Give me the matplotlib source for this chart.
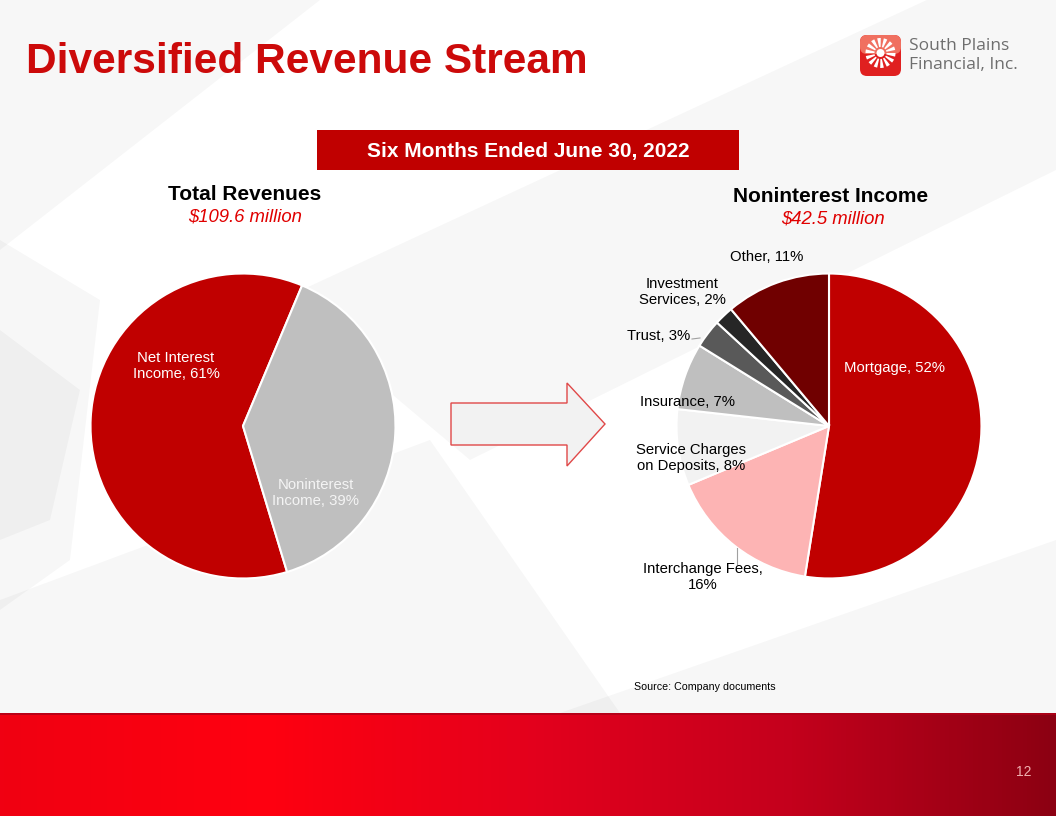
import numpy as np
import matplotlib.pyplot as plt
from matplotlib.patches import Rectangle, FancyBboxPatch, Polygon, Wedge, Circle
from matplotlib.colors import LinearSegmentedColormap

plt.rcParams['font.family'] = ['Liberation Sans', 'DejaVu Sans']

# ---- data ----
total_names = ['Net Interest\nIncome', 'Noninterest\nIncome']
total_values = [61, 39]
total_colors = ['#C00000', '#BFBFBF']

nonint_names = ['Mortgage', 'Interchange Fees', 'Service Charges\non Deposits',
                'Insurance', 'Trust', 'Investment\nServices', 'Other']
nonint_values = [52, 16, 8, 7, 3, 2, 11]
nonint_seps = [' ', '\n', ' ', ' ', ' ', ' ', ' ']
nonint_colors = ['#C00000', '#FDB4B4', '#F2F2F2', '#BFBFBF', '#595959', '#262626', '#700000']

W, H = 1056, 816
RED = '#C00000'

fig = plt.figure(figsize=(W / 100, H / 100), dpi=100)


def px_axes(z):
    a = fig.add_axes([0, 0, 1, 1])
    a.set_xlim(0, W)
    a.set_ylim(H, 0)
    a.axis('off')
    a.patch.set_alpha(0)
    a.set_zorder(z)
    return a


bg = px_axes(0)
top = px_axes(10)

# soft grey background facets (diagonal, no hard horizontal edges)
facets = [
    [(0, 240), (100, 300), (70, 560), (0, 610)],
    [(0, 330), (80, 390), (50, 520), (0, 540)],
    [(0, 600), (430, 440), (620, 713), (0, 713)],
    [(280, 300), (1056, -60), (1056, 170), (470, 460)],
    [(560, 713), (1056, 540), (1056, 713)],
    [(0, 0), (320, 0), (0, 250)],
]
for pts in facets:
    bg.add_patch(Polygon(pts, closed=True, facecolor='black', alpha=0.03,
                         edgecolor='none', zorder=0))

# bottom red band (horizontal gradient)
grad = np.linspace(0, 1, 256).reshape(1, -1)
band_cmap = LinearSegmentedColormap.from_list(
    'band', ['#F00012', '#FF0010', '#E4001C', '#C4001C', '#8C0012'])
bg.imshow(grad, cmap=band_cmap, aspect='auto', extent=(0, W, H, 713), zorder=1)
bg.plot([0, W], [713.5, 713.5], color='#B00018', lw=1.2, zorder=2)
bg.set_xlim(0, W)
bg.set_ylim(H, 0)
bg.text(1024, 772, '12', color='#F0B0B0', fontsize=10, ha='center', va='center', zorder=3)

# title
bg.text(26, 62, 'Diversified Revenue Stream', color='#CC0A0A', fontsize=30.5,
        fontweight='bold', ha='left', va='center')

# logo
bg.add_patch(FancyBboxPatch((860, 35), 41, 41, boxstyle='round,pad=0,rounding_size=7',
                            facecolor='#E02020', edgecolor='none', zorder=3))
bg.add_patch(FancyBboxPatch((860, 35), 41, 19, boxstyle='round,pad=0,rounding_size=7',
                            facecolor='#F07060', edgecolor='none', zorder=3))
for k in range(14):
    a = k * 360 / 14
    bg.add_patch(Wedge((880.5, 53), 15, a, a + 14, width=9, facecolor='white',
                       edgecolor='none', zorder=4))
bg.add_patch(Circle((880.5, 53), 4, facecolor='white', edgecolor='none', zorder=4))
bg.text(909, 46, 'South Plains', color='#6E6E6E', fontsize=12.5, family='Open Sans',
        ha='left', va='center')
bg.text(909, 65, 'Financial, Inc.', color='#6E6E6E', fontsize=12.5, family='Open Sans',
        ha='left', va='center')

# period banner
bg.add_patch(Rectangle((317, 130), 422, 40, facecolor=RED, edgecolor='none', zorder=3))
bg.text(528, 151, 'Six Months Ended June 30, 2022', color='white', fontsize=15,
        fontweight='bold', ha='center', va='center', zorder=4)

# pie headings
bg.text(245, 195, 'Total Revenues', fontsize=15, fontweight='bold', ha='center', va='center')
bg.text(245, 217, '$109.6 million', fontsize=13.3, style='italic', color='#E00000',
        ha='center', va='center')
bg.text(831, 197, 'Noninterest Income', fontsize=15, fontweight='bold', ha='center', va='center')
bg.text(833, 219, '$42.5 million', fontsize=13.3, style='italic', color='#E00000',
        ha='center', va='center')


def pie_axes(cx, cy, r):
    ax = fig.add_axes([(cx - r) / W, 1 - (cy + r) / H, 2 * r / W, 2 * r / H])
    ax.set_zorder(5)
    return ax


# left pie
ax1 = pie_axes(243, 426, 154)
ax1.pie(total_values, colors=total_colors, startangle=67.2, counterclock=True, radius=1,
        wedgeprops=dict(edgecolor='white', linewidth=1.5))
ax1.set_xlim(-1.01, 1.01)
ax1.set_ylim(-1.01, 1.01)

total_labels = [f'{n}, {v}%' for n, v in zip(total_names, total_values)]
top.text(176, 366, total_labels[0], color='white', fontsize=10.7, ha='center', va='center',
         linespacing=1.1)
top.text(316, 493, total_labels[1], color='#F4F4F4', fontsize=10.7, ha='center', va='center',
         linespacing=1.1)

# arrow
bg.add_patch(Polygon([(451, 403), (567, 403), (567, 383), (605, 424), (567, 466),
                      (567, 445), (451, 445)], closed=True, facecolor='#F2F2F2',
                     edgecolor='#E04848', lw=1.0, zorder=3))

# right pie
ax2 = pie_axes(829, 426, 154)
ax2.pie(nonint_values, colors=nonint_colors, startangle=90, counterclock=False, radius=1,
        wedgeprops=dict(edgecolor='white', linewidth=1.5))
ax2.set_xlim(-1.01, 1.01)
ax2.set_ylim(-1.01, 1.01)

nonint_labels = [f'{n},{s}{v}%' for n, s, v in zip(nonint_names, nonint_seps, nonint_values)]
label_pos = [(894, 368), (703, 577), (691, 458), (688, 402), (659, 336), (682, 292), (767, 257)]
label_col = ['white', 'black', 'black', 'black', 'black', 'black', 'black']
for lab, (x, y), c in zip(nonint_labels, label_pos, label_col):
    top.text(x, y, lab, color=c, fontsize=10.7, ha='center', va='center', linespacing=1.1)

# leader lines
top.plot([737, 737], [548, 564], color='#A0A0A0', lw=0.8)
top.plot([692, 700], [339, 338], color='#A0A0A0', lw=0.8)

bg.text(634, 687, 'Source: Company documents', fontsize=7.7, ha='left', va='center')

fig.savefig('out.png', dpi=100)
